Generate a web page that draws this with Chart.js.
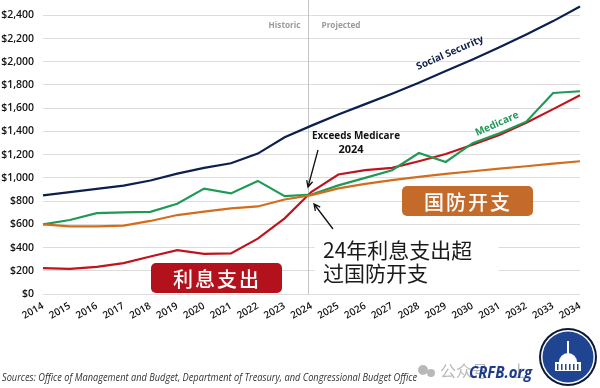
<!DOCTYPE html>
<html>
<head>
<meta charset="utf-8">
<script src="https://cdn.jsdelivr.net/npm/chart.js@4.4.1/dist/chart.umd.min.js"></script>
<style>
  html, body { margin: 0; padding: 0; background: #fff; }
  #wrap { width: 600px; height: 388px; position: relative; }
</style>
</head>
<body>
<div id="wrap"><canvas id="chart"></canvas></div>
<script>
// Spending by program, billions of dollars (2014-2023 actual, 2024-2034 projected)
const years = ['2014', '2015', '2016', '2017', '2018', '2019', '2020', '2021', '2022', '2023', '2024',
  '2025', '2026', '2027', '2028', '2029', '2030', '2031', '2032', '2033', '2034'];
const socialSecurity = [849, 878, 906, 934, 977, 1037, 1086, 1126, 1209, 1350, 1450,
  1545, 1635, 1725, 1820, 1920, 2020, 2125, 2235, 2350, 2475];
const medicare = [600, 637, 697, 703, 708, 777, 908, 866, 974, 843, 857,
  935, 1000, 1066, 1214, 1137, 1299, 1384, 1484, 1731, 1746];
const defense = [600, 583, 583, 589, 629, 680, 709, 737, 754, 814, 851,
  909, 949, 980, 1009, 1034, 1057, 1080, 1100, 1123, 1143];
const interest = [223, 217, 234, 266, 323, 377, 346, 349, 477, 651, 880,
  1029, 1066, 1086, 1143, 1205, 1285, 1370, 1475, 1592, 1712];
const yTicks = [0, 200, 400, 600, 800, 1000, 1200, 1400, 1600, 1800, 2000, 2200, 2400];
const splitIndex = 10; // first projected year

const colors = {
  ss: '#0c1f4e',
  medicare: '#1f9a55',
  defense: '#d36d1c',
  interest: '#c0141c'
};

function arrow(ctx, x1, y1, x2, y2) {
  const a = Math.atan2(y2 - y1, x2 - x1);
  ctx.beginPath();
  ctx.moveTo(x1, y1);
  ctx.lineTo(x2, y2);
  ctx.moveTo(x2 - 7 * Math.cos(a - 0.45), y2 - 7 * Math.sin(a - 0.45));
  ctx.lineTo(x2, y2);
  ctx.lineTo(x2 - 7 * Math.cos(a + 0.45), y2 - 7 * Math.sin(a + 0.45));
  ctx.stroke();
}

function roundBox(ctx, x, y, w, h, r, fill) {
  ctx.beginPath();
  ctx.roundRect(x, y, w, h, r);
  ctx.fillStyle = fill;
  ctx.fill();
}

function spacedText(ctx, str, x0, pitch, y) {
  [...str].forEach((ch, i) => ctx.fillText(ch, x0 + i * pitch, y));
}

const overlay = {
  id: 'overlay',
  beforeDatasetsDraw(chart) {
    const { ctx, chartArea, scales: { x } } = chart;
    const vx = Math.round(x.getPixelForValue(splitIndex) - 4) + 0.5;
    ctx.save();
    ctx.strokeStyle = '#c4c4c4';
    ctx.lineWidth = 1;
    ctx.beginPath();
    ctx.moveTo(vx, 0);
    ctx.lineTo(vx, chartArea.bottom);
    ctx.stroke();

    ctx.fillStyle = '#9a9a9a';
    ctx.font = 'bold 8.5px "Open Sans"';
    ctx.textBaseline = 'middle';
    ctx.textAlign = 'right';
    ctx.fillText('Historic', vx - 8, 26, 32);
    ctx.textAlign = 'left';
    ctx.fillText('Projected', vx + 13, 26, 39);

    // white panel behind the Chinese note
    ctx.fillStyle = '#fff';
    ctx.fillRect(vx + 6, 234, 184, 56);
    ctx.restore();
  },
  afterDatasetsDraw(chart) {
    const { ctx } = chart;
    ctx.save();

    // series labels along the lines
    ctx.textAlign = 'center';
    ctx.textBaseline = 'middle';
    ctx.fillStyle = colors.ss;
    ctx.font = 'bold 10px "Open Sans"';
    ctx.translate(450, 53);
    ctx.rotate(-0.41);
    ctx.fillText('Social Security', 0, 0, 72);
    ctx.setTransform(1, 0, 0, 1, 0, 0);
    ctx.fillStyle = colors.medicare;
    ctx.translate(497, 124);
    ctx.rotate(-0.42);
    ctx.fillText('Medicare', 0, 0, 48);
    ctx.setTransform(1, 0, 0, 1, 0, 0);

    // Exceeds Medicare note
    ctx.fillStyle = '#111';
    ctx.font = 'bold 11px "Open Sans"';
    ctx.textAlign = 'left';
    ctx.fillText('Exceeds Medicare', 312, 136, 88);
    ctx.textAlign = 'center';
    ctx.fillText('2024', 351, 150, 26);
    ctx.strokeStyle = '#111';
    ctx.lineWidth = 1.3;
    arrow(ctx, 318, 150, 308, 187);
    arrow(ctx, 333, 229, 314, 204);

    // Chinese note
    ctx.fillStyle = '#1a1a1a';
    ctx.font = '21px "Noto Sans CJK SC"';
    ctx.textAlign = 'left';
    ctx.fillText('24年利息支出超', 323, 250, 160);
    ctx.fillText('过国防开支', 323, 273);

    // labelled boxes
    roundBox(ctx, 151, 263, 131, 30, 5, '#b3111c');
    roundBox(ctx, 402, 186, 131, 30, 5, '#c46a2a');
    ctx.fillStyle = '#fff';
    ctx.font = '500 20px "Noto Sans CJK SC"';
    ctx.textAlign = 'center';
    spacedText(ctx, '利息支出', 183, 22, 279);
    spacedText(ctx, '国防开支', 434, 22, 202);

    ctx.restore();
  },
  afterDraw(chart) {
    const { ctx } = chart;
    ctx.save();
    ctx.fillStyle = '#333';
    ctx.font = 'italic 10px "Open Sans"';
    ctx.textAlign = 'left';
    ctx.textBaseline = 'middle';
    ctx.fillText('Sources: Office of Management and Budget, Department of Treasury, and Congressional Budget Office', 2, 378, 415);

    // watermark
    ctx.fillStyle = 'rgba(160,160,160,0.75)';
    ctx.beginPath();
    ctx.arc(423, 370, 5, 0, Math.PI * 2);
    ctx.arc(431, 373, 4, 0, Math.PI * 2);
    ctx.fill();
    ctx.font = '16px "Noto Sans CJK SC"';
    ctx.fillText('公众号 · 上', 440, 371);

    ctx.fillStyle = '#1d3d8a';
    ctx.font = 'italic bold 16px "Open Sans"';
    ctx.fillText('CRFB.org', 469, 373, 63);

    // logo
    ctx.beginPath(); ctx.arc(568, 357, 29, 0, Math.PI * 2); ctx.fillStyle = '#0b1736'; ctx.fill();
    ctx.beginPath(); ctx.arc(568, 357, 27, 0, Math.PI * 2); ctx.fillStyle = '#fff'; ctx.fill();
    ctx.beginPath(); ctx.arc(568, 357, 25.5, 0, Math.PI * 2); ctx.fillStyle = '#1f4592'; ctx.fill();
    ctx.fillStyle = '#fff';
    ctx.beginPath(); ctx.arc(568, 362, 9, Math.PI, 0); ctx.fill();
    ctx.fillRect(555, 362, 26, 9);
    ctx.fillRect(567, 341, 2, 12);
    ctx.fillStyle = '#1f4592';
    for (let i = 0; i < 6; i++) ctx.fillRect(557 + i * 4, 364, 1.5, 6);
    ctx.restore();
  }
};

new Chart(document.getElementById('chart'), {
  type: 'line',
  data: {
    labels: years,
    datasets: [
      { label: 'Social Security', data: socialSecurity, borderColor: colors.ss },
      { label: 'Defense', data: defense, borderColor: colors.defense },
      { label: 'Medicare', data: medicare, borderColor: colors.medicare },
      { label: 'Net Interest', data: interest, borderColor: colors.interest }
    ].map(d => Object.assign(d, { borderWidth: 2.2, pointRadius: 0, tension: 0, fill: false, clip: false }))
  },
  options: {
    responsive: true,
    maintainAspectRatio: false,
    animation: false,
    layout: { padding: { top: 13, right: 20, left: 0, bottom: 0 } },
    plugins: { legend: { display: false }, tooltip: { enabled: false } },
    scales: {
      x: {
        grid: { display: false, drawTicks: false },
        border: { display: false },
        ticks: {
          color: '#111',
          font: { family: 'Open Sans', size: 10, weight: '600' },
          maxRotation: 30, minRotation: 30, autoSkip: false, padding: 6
        },
        afterFit(scale) { scale.height = 94; }
      },
      y: {
        min: 0, max: 2400,
        afterBuildTicks(scale) { scale.ticks = yTicks.map(v => ({ value: v })); },
        grid: { color: '#dcdcdc', lineWidth: 1, drawTicks: false },
        border: { display: false },
        ticks: {
          color: '#111',
          font: { family: 'Open Sans', size: 10.5, weight: '600' },
          padding: 9,
          callback: v => '$' + v.toLocaleString('en-US')
        },
        afterFit(scale) { scale.width = 43; }
      }
    }
  },
  plugins: [overlay]
});
</script>
</body>
</html>
